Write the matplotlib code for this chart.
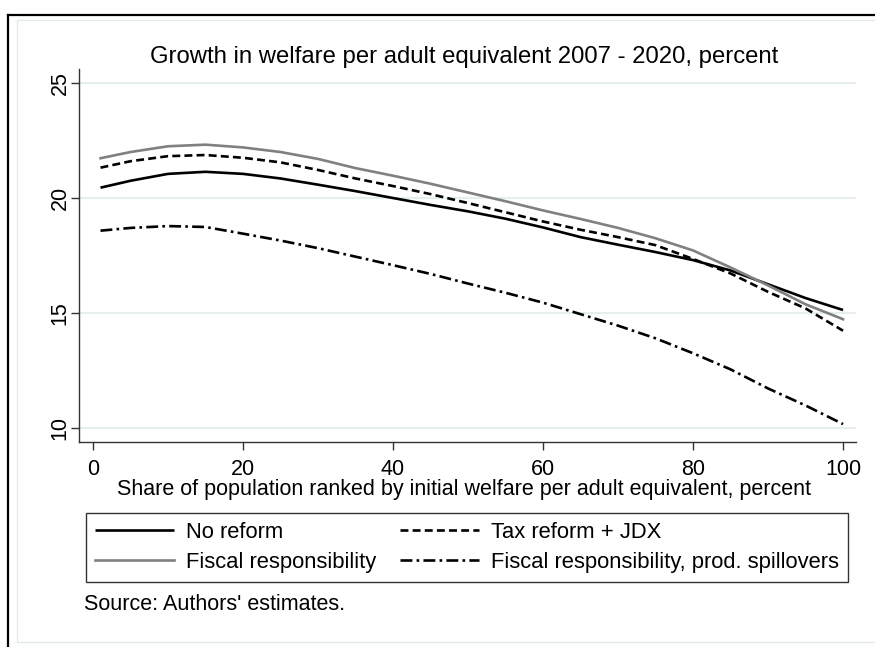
import matplotlib
matplotlib.use("Agg")
import matplotlib.pyplot as plt
from matplotlib.lines import Line2D
from matplotlib.patches import Rectangle

plt.rcParams['font.family'] = ['Liberation Sans', 'DejaVu Sans']

# ---- data ----
share = [1, 5, 10, 15, 20, 25, 30, 35, 40, 45, 50, 55, 60, 65, 70, 75, 80, 85, 90, 95, 100]
no_reform = [20.45, 20.75, 21.05, 21.14, 21.05, 20.85, 20.58, 20.30, 20.00, 19.70, 19.42, 19.10,
             18.72, 18.30, 17.97, 17.65, 17.30, 16.85, 16.25, 15.65, 15.13]
tax_reform = [21.32, 21.60, 21.82, 21.87, 21.75, 21.55, 21.22, 20.85, 20.52, 20.17, 19.78, 19.38,
              18.98, 18.62, 18.30, 17.95, 17.35, 16.72, 15.92, 15.20, 14.23]
fiscal = [21.73, 22.00, 22.25, 22.32, 22.20, 22.00, 21.70, 21.30, 20.97, 20.62, 20.24, 19.86,
          19.46, 19.09, 18.70, 18.25, 17.72, 16.98, 16.20, 15.38, 14.73]
fiscal_spill = [18.58, 18.70, 18.78, 18.74, 18.45, 18.15, 17.82, 17.45, 17.08, 16.70, 16.28, 15.88,
                15.45, 14.95, 14.45, 13.90, 13.25, 12.55, 11.72, 10.98, 10.17]

labels = ["No reform", "Tax reform + JDX", "Fiscal responsibility",
          "Fiscal responsibility, prod. spillovers"]
title = "Growth in welfare per adult equivalent 2007 - 2020, percent"
xlabel = "Share of population ranked by initial welfare per adult equivalent, percent"
source = "Source: Authors' estimates."
xticks = [0, 20, 40, 60, 80, 100]
yticks = [10, 15, 20, 25]

W, H = 875, 647
fig = plt.figure(figsize=(W / 100, H / 100), dpi=100)
fig.patch.set_facecolor('white')

def fx(px):
    return px / W

def fy(py):
    return 1 - py / H

# frame lines
fig.add_artist(Rectangle((fx(17), fy(642)), fx(880) - fx(17), fy(20) - fy(642),
                         transform=fig.transFigure, fill=False, edgecolor='#e3eaec', lw=1.0))
fig.add_artist(Line2D([fx(8), fx(8)], [fy(15), fy(650)], transform=fig.transFigure,
                      color='black', lw=1.6))
fig.add_artist(Line2D([fx(8), fx(880)], [fy(15), fy(15)], transform=fig.transFigure,
                      color='black', lw=1.6))

ax = fig.add_axes([fx(79), fy(442), fx(856) - fx(79), fy(69) - fy(442)])
ax.set_xlim(-1.867, 101.73)
ax.set_ylim(9.391, 25.61)

for v in yticks:
    ax.axhline(v, color='#e6eef0', lw=1.5, zorder=0)

lw = 1.9
l1, = ax.plot(share, no_reform, color='black', lw=lw, solid_capstyle='butt')
l2, = ax.plot(share, tax_reform, color='black', lw=lw, linestyle=(0, (3.0, 1.6)))
l3, = ax.plot(share, fiscal, color='#808080', lw=lw)
l4, = ax.plot(share, fiscal_spill, color='black', lw=lw, linestyle=(0, (4.5, 1.6, 1.0, 1.6)))

for s in ['top', 'right']:
    ax.spines[s].set_visible(False)
for s in ['left', 'bottom']:
    ax.spines[s].set_color('#333333')
    ax.spines[s].set_linewidth(1.0)

fs = 15.5
ax.set_xticks(xticks)
ax.set_yticks(yticks)
ax.set_xticklabels([str(t) for t in xticks], fontsize=fs)
ax.set_yticklabels([str(t) for t in yticks], fontsize=fs, rotation=90, va='center')
ax.tick_params(axis='both', direction='out', length=6, width=1.0, color='#333333')
ax.tick_params(axis='y', pad=0)
ax.tick_params(axis='x', pad=6)

fig.text(fx(464), fy(57), title, ha='center', va='center', fontsize=17.2)
fig.text(fx(464), fy(490), xlabel, ha='center', va='center', fontsize=fs)
fig.text(fx(84), fy(604), source, ha='left', va='center', fontsize=fs)

leg = fig.legend([l1, l3, l2, l4], [labels[0], labels[2], labels[1], labels[3]],
                 ncol=2, loc='upper left', bbox_to_anchor=(fx(86), fy(513)),
                 bbox_transform=fig.transFigure, fontsize=15.8, frameon=True,
                 fancybox=False, edgecolor='black', handlelength=3.6,
                 handletextpad=0.55, columnspacing=1.08, labelspacing=0.42,
                 borderpad=0.4, borderaxespad=0)
leg.get_frame().set_linewidth(1.0)

fig.savefig('out.png', dpi=100, facecolor='white')
